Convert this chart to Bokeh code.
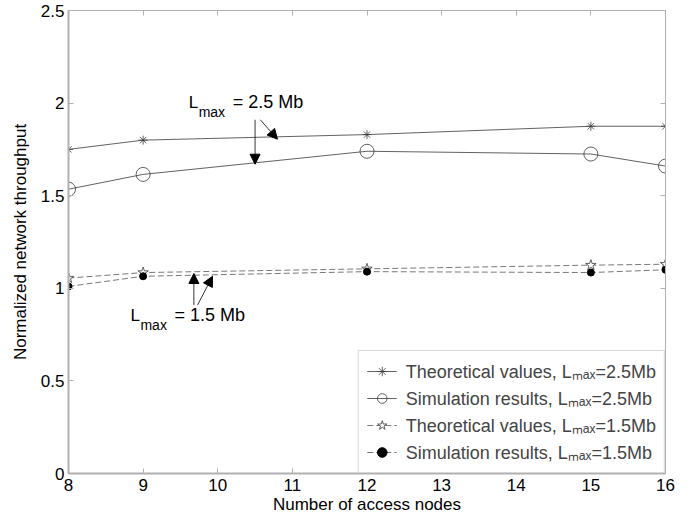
from bokeh.plotting import figure
from bokeh.models import (LinearAxis, Range1d, Label, Arrow, NormalHead, Legend, LegendItem,
                          FixedTicker)
from bokeh.embed import file_html
from bokeh.resources import INLINE

# ---- data ----
nodes = [8, 9, 12, 15, 16]
theo_25 = [1.75, 1.80, 1.83, 1.875, 1.875]
sim_25 = [1.535, 1.615, 1.74, 1.725, 1.66]
theo_15 = [1.055, 1.085, 1.105, 1.125, 1.13]
sim_15 = [1.01, 1.065, 1.09, 1.085, 1.10]
x_ticks = [8, 9, 10, 11, 12, 13, 14, 15, 16]
y_ticks = [0, 0.5, 1, 1.5, 2, 2.5]

FONT = "Liberation Sans"
AX = "#b0b0b0"
LC = "#3a3a3a"

p = figure(width=682, height=515, frame_width=597, frame_height=463,
           x_range=Range1d(8, 16), y_range=Range1d(0, 2.5),
           output_backend="svg", toolbar_location=None,
           min_border_left=68, min_border_top=10, min_border_right=17, min_border_bottom=42,
           x_axis_label="Number of access nodes", y_axis_label="Normalized network throughput")
p.outline_line_color = AX
p.outline_line_width = 1
p.xgrid.visible = False
p.ygrid.visible = False
p.background_fill_color = "white"
p.border_fill_color = "white"

p.xaxis.ticker = FixedTicker(ticks=x_ticks)
p.yaxis.ticker = FixedTicker(ticks=y_ticks)
p.yaxis.major_label_overrides = {0: "0", 0.5: "0.5", 1: "1", 1.5: "1.5", 2: "2", 2.5: "2.5"}
for ax in (p.xaxis[0], p.yaxis[0]):
    ax.axis_line_color = AX
    ax.axis_line_width = 2
    ax.major_tick_line_color = AX
    ax.major_tick_in = 5
    ax.major_tick_out = 0
    ax.minor_tick_line_color = None
    ax.major_label_text_font = FONT
    ax.major_label_text_font_size = "17px"
    ax.major_label_text_color = "black"
    ax.axis_label_text_font = FONT
    ax.axis_label_text_font_size = "17px"
    ax.axis_label_text_font_style = "normal"
    ax.axis_label_text_color = "black"
p.xaxis.major_label_standoff = 5
p.xaxis.axis_label_standoff = 1
p.yaxis.major_label_standoff = 4
p.yaxis.axis_label_standoff = 8

# top and right boxed ticks
top = LinearAxis(ticker=FixedTicker(ticks=x_ticks), major_label_text_font_size="0px",
                 axis_line_color=AX, major_tick_line_color=AX, major_tick_in=5, major_tick_out=0,
                 minor_tick_line_color=None, major_label_standoff=0)
right = LinearAxis(ticker=FixedTicker(ticks=y_ticks), major_label_text_font_size="0px",
                   axis_line_color=AX, major_tick_line_color=AX, major_tick_in=5, major_tick_out=0,
                   minor_tick_line_color=None, major_label_standoff=0)
p.add_layout(top, "above")
p.add_layout(right, "right")

# ---- series ----
l1 = p.line(nodes, theo_25, line_color=LC, line_width=0.8)
m1 = p.scatter(nodes, theo_25, marker="asterisk", size=9, line_color=LC, line_width=0.8)
l2 = p.line(nodes, sim_25, line_color=LC, line_width=0.8)
m2 = p.scatter(nodes, sim_25, marker="circle", size=14, line_color=LC, fill_color=None, line_width=0.8)
l3 = p.line(nodes, theo_15, line_color="#555555", line_width=0.8, line_dash="6 3")
m3 = p.scatter(nodes, theo_15, marker="star", size=11, line_color=LC, fill_color="white", line_width=0.8)
l4 = p.line(nodes, sim_15, line_color="#555555", line_width=0.8, line_dash="6 3")
m4 = p.scatter(nodes, sim_15, marker="circle", size=7, line_color="black", fill_color="black")

# ---- annotations ----
def lmax_label(x, y, rest):
    p.add_layout(Label(x=x, y=y, text="L", text_font=FONT, text_font_size="17px", text_color="black"))
    p.add_layout(Label(x=x, y=y, x_offset=10, y_offset=-8, text="max", text_font=FONT,
                       text_font_size="14px", text_color="black"))
    p.add_layout(Label(x=x, y=y, x_offset=44, text=rest, text_font=FONT,
                       text_font_size="18px", text_color="black"))

lmax_label(9.61, 1.95, "= 2.5 Mb")
lmax_label(8.83, 0.80, "= 1.5 Mb")

head = dict(size=10, fill_color="black", line_color="black")
p.add_layout(Arrow(x_start=10.5, y_start=1.91, x_end=10.5, y_end=1.67,
                   end=NormalHead(**head), line_color="black", line_width=0.8))
p.add_layout(Arrow(x_start=10.57, y_start=1.91, x_end=10.8, y_end=1.805,
                   end=NormalHead(**head), line_color="black", line_width=0.8))
p.add_layout(Arrow(x_start=9.68, y_start=0.91, x_end=9.68, y_end=1.08,
                   end=NormalHead(**head), line_color="black", line_width=0.8))
p.add_layout(Arrow(x_start=9.73, y_start=0.91, x_end=9.93, y_end=1.065,
                   end=NormalHead(**head), line_color="black", line_width=0.8))

# ---- legend ----
legend = Legend(items=[
    LegendItem(label="Theoretical values, Lₘₐₓ=2.5Mb", renderers=[l1, m1]),
    LegendItem(label="Simulation results, Lₘₐₓ=2.5Mb", renderers=[l2, m2]),
    LegendItem(label="Theoretical values, Lₘₐₓ=1.5Mb", renderers=[l3, m3]),
    LegendItem(label="Simulation results, Lₘₐₓ=1.5Mb", renderers=[l4, m4]),
], location="bottom_right")
legend.margin = 0
legend.padding = 8
legend.spacing = 3
legend.label_height = 24
legend.glyph_height = 24
legend.glyph_width = 30
legend.label_standoff = 9
legend.label_text_font = FONT
legend.label_text_font_size = "18px"
legend.border_line_color = AX
legend.border_line_width = 1
legend.background_fill_color = "white"
legend.background_fill_alpha = 1
p.add_layout(legend)

open("out.html", "w").write(file_html(p, INLINE))
